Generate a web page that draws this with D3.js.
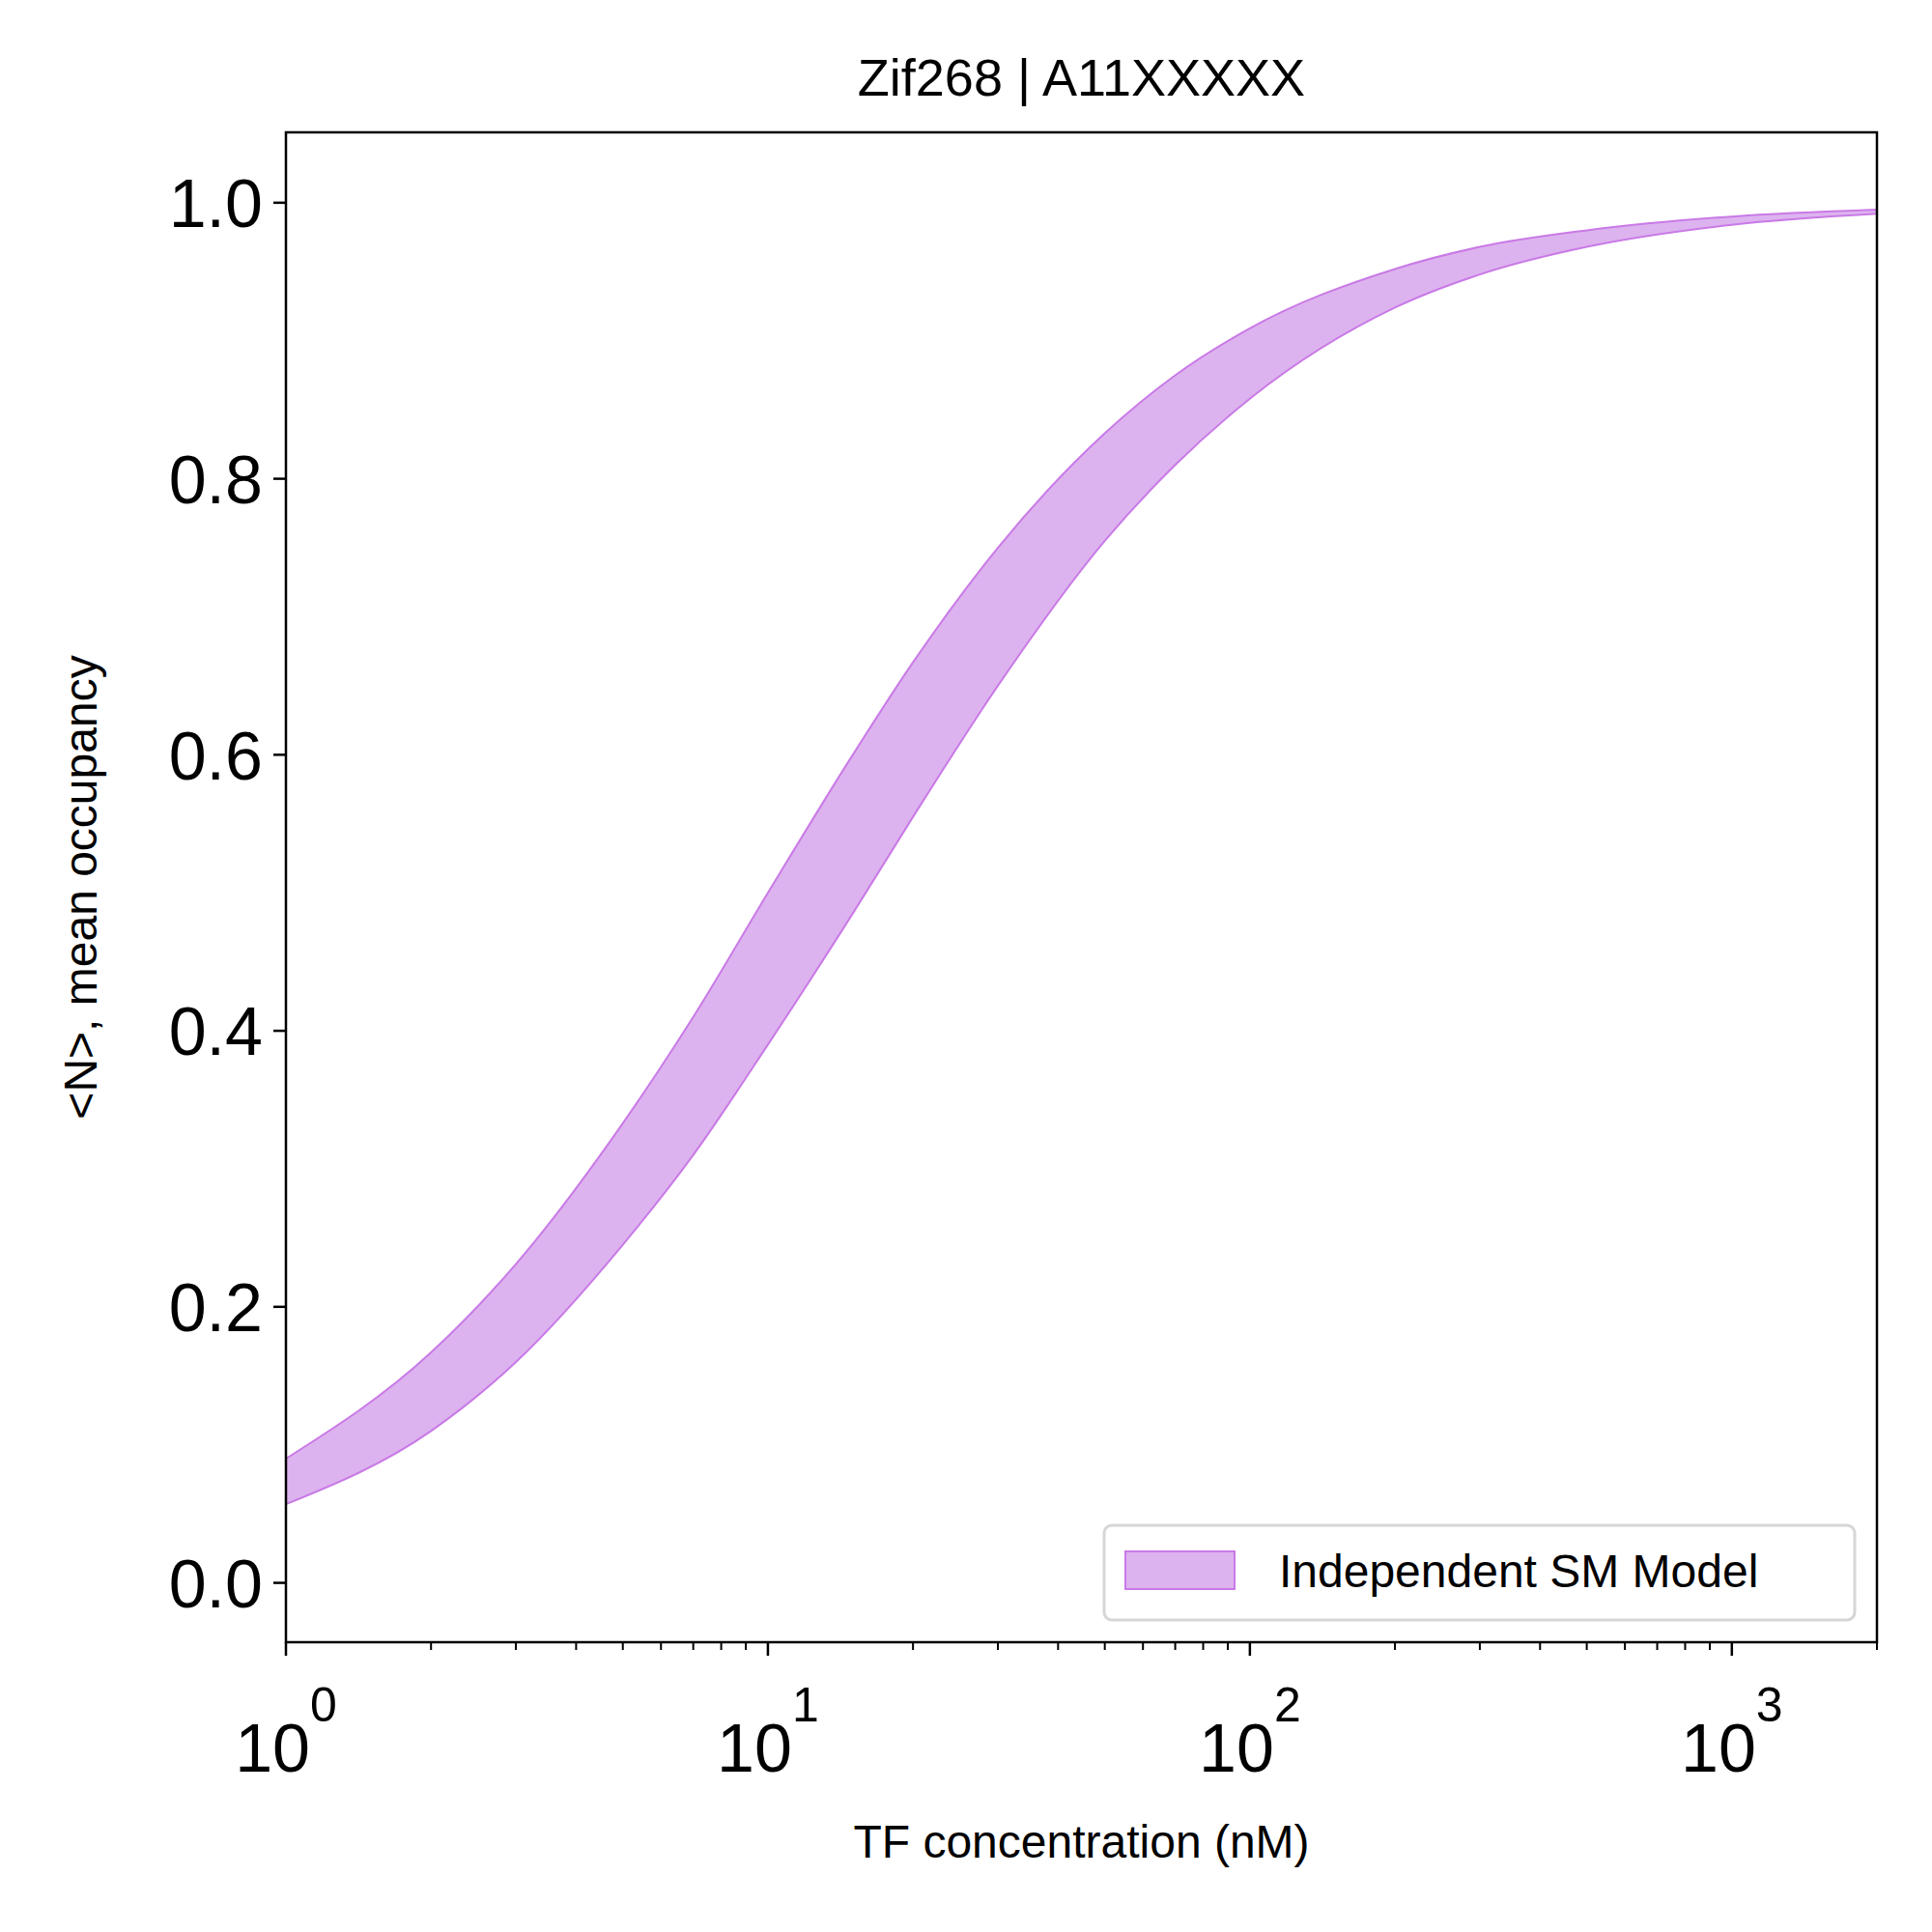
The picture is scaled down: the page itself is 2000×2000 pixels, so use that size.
<!DOCTYPE html>
<html><head><meta charset="utf-8">
<script src="https://cdn.jsdelivr.net/npm/d3@7"></script>
<style>body{margin:0;background:#fff}text{font-family:"Liberation Sans",Arial,sans-serif}</style>
</head><body>
<svg id="chart" width="2000" height="2000"></svg>
<script>
// values
const concentrations = [1, 2, 3, 5, 7, 10, 15, 20, 30, 50, 70, 100, 200, 300, 500, 1000, 2000]
const upperBound = [0.090, 0.167, 0.231, 0.333, 0.410, 0.500, 0.600, 0.667, 0.750, 0.833, 0.875, 0.909, 0.952, 0.968, 0.980, 0.990, 0.995]
const lowerBound = [0.057, 0.110, 0.160, 0.245, 0.310, 0.390, 0.485, 0.555, 0.650, 0.755, 0.810, 0.858, 0.924, 0.948, 0.968, 0.984, 0.992]
const yTicks = [0, 0.2, 0.4, 0.6, 0.8, 1.0]
const xMajor = [1, 10, 100, 1000]

const svg = d3.select("#chart")
const plotL = 296, plotR = 1943, plotT = 137, plotB = 1700

const x = d3.scaleLog().domain([1, 2000]).range([plotL, plotR])
const y = d3.scaleLinear().domain([-0.043, 1.051]).range([plotB, plotT])

const band = concentrations.map((c, i) => ({c, lo: lowerBound[i], hi: upperBound[i]}))

const area = d3.area().curve(d3.curveMonotoneX)
  .x(d => x(d.c)).y0(d => y(d.lo)).y1(d => y(d.hi))

svg.append("path").datum(band)
  .attr("d", area)
  .attr("fill", "#ddb3ef")
  .attr("stroke", "#c97ae6")
  .attr("stroke-width", 2)

// frame
svg.append("rect").attr("x", plotL).attr("y", plotT)
  .attr("width", plotR - plotL).attr("height", plotB - plotT)
  .attr("fill", "none").attr("stroke", "#000").attr("stroke-width", 2.5)

// y ticks
yTicks.forEach(t => {
  svg.append("line").attr("x1", plotL - 13).attr("x2", plotL)
    .attr("y1", y(t)).attr("y2", y(t)).attr("stroke", "#000").attr("stroke-width", 2.5)
  svg.append("text").attr("x", plotL - 24).attr("y", y(t)).attr("dy", "0.36em")
    .attr("text-anchor", "end").attr("font-size", 70).text(t.toFixed(1))
})

// x minor ticks
for (let d = 1; d <= 1000; d *= 10) {
  for (let m = 2; m <= 9; m++) {
    const v = d * m
    if (v > 2000) break
    svg.append("line").attr("x1", x(v)).attr("x2", x(v))
      .attr("y1", plotB).attr("y2", plotB + 8).attr("stroke", "#000").attr("stroke-width", 2)
  }
}
// x major ticks
xMajor.forEach((t, i) => {
  svg.append("line").attr("x1", x(t)).attr("x2", x(t))
    .attr("y1", plotB).attr("y2", plotB + 14).attr("stroke", "#000").attr("stroke-width", 2.5)
  const lbl = svg.append("text").attr("x", x(t)).attr("y", 1834)
    .attr("text-anchor", "middle").attr("font-size", 70)
  lbl.append("tspan").text("10")
  lbl.append("tspan").attr("dy", -52).attr("font-size", 50).text(i)
})

// labels
svg.append("text").attr("x", (plotL + plotR) / 2).attr("y", 99)
  .attr("text-anchor", "middle").attr("font-size", 54).text("Zif268 | A11XXXXX")
svg.append("text").attr("x", (plotL + plotR) / 2).attr("y", 1923)
  .attr("text-anchor", "middle").attr("font-size", 48).text("TF concentration (nM)")
svg.append("text").attr("transform", `translate(100,${(plotT + plotB) / 2}) rotate(-90)`)
  .attr("text-anchor", "middle").attr("font-size", 48).text("<N>, mean occupancy")

// legend
svg.append("rect").attr("x", 1143).attr("y", 1579).attr("width", 777).attr("height", 98)
  .attr("rx", 8).attr("fill", "#fff").attr("stroke", "#d6d6d6").attr("stroke-width", 3)
svg.append("rect").attr("x", 1165).attr("y", 1606).attr("width", 113).attr("height", 39)
  .attr("fill", "#ddb3ef").attr("stroke", "#c97ae6").attr("stroke-width", 2)
svg.append("text").attr("x", 1324).attr("y", 1626).attr("dy", "0.36em")
  .attr("font-size", 48).text("Independent SM Model")
</script>
</body></html>
